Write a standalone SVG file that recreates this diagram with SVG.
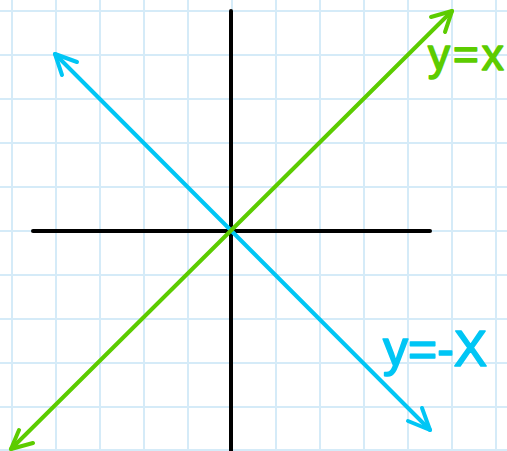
<svg xmlns="http://www.w3.org/2000/svg" width="507" height="451" viewBox="0 0 507 451">
  <style>
    .grid line { stroke: #d5ebf8; stroke-width: 2; }
    .axis { stroke: #000; stroke-width: 4; stroke-linecap: round; fill: none; }
    .blue { stroke: #00c6f5; stroke-width: 4; stroke-linecap: round; stroke-linejoin: round; fill: none; }
    .green { stroke: #5ccc00; stroke-width: 4; stroke-linecap: round; stroke-linejoin: round; fill: none; }
    .lbl { font-family: "Liberation Sans", Arial, sans-serif; stroke-width: 1.6; stroke-linejoin: round; }
  </style>
  <rect width="507" height="451" fill="#ffffff"/>
  <g id="grid" class="grid">
    <line x1="12" y1="0" x2="12" y2="451"/>
    <line x1="56" y1="0" x2="56" y2="451"/>
    <line x1="100" y1="0" x2="100" y2="451"/>
    <line x1="144" y1="0" x2="144" y2="451"/>
    <line x1="188" y1="0" x2="188" y2="451"/>
    <line x1="232" y1="0" x2="232" y2="451"/>
    <line x1="276" y1="0" x2="276" y2="451"/>
    <line x1="320" y1="0" x2="320" y2="451"/>
    <line x1="364" y1="0" x2="364" y2="451"/>
    <line x1="408" y1="0" x2="408" y2="451"/>
    <line x1="452" y1="0" x2="452" y2="451"/>
    <line x1="496" y1="0" x2="496" y2="451"/>
    <line x1="0" y1="11" x2="507" y2="11"/>
    <line x1="0" y1="55" x2="507" y2="55"/>
    <line x1="0" y1="99" x2="507" y2="99"/>
    <line x1="0" y1="143" x2="507" y2="143"/>
    <line x1="0" y1="187" x2="507" y2="187"/>
    <line x1="0" y1="231" x2="507" y2="231"/>
    <line x1="0" y1="275" x2="507" y2="275"/>
    <line x1="0" y1="319" x2="507" y2="319"/>
    <line x1="0" y1="363" x2="507" y2="363"/>
    <line x1="0" y1="407" x2="507" y2="407"/>
    <line x1="0" y1="450" x2="507" y2="450"/>
  </g>
  <g id="axes">
    <line class="axis" x1="231" y1="11" x2="231" y2="455"/>
    <line class="axis" x1="33" y1="231" x2="430" y2="231"/>
  </g>
  <g id="line-neg">
    <line class="blue" x1="55" y1="54" x2="430" y2="430"/>
    <polyline class="blue" points="77,62 55,54 62,75"/>
    <polyline class="blue" points="408,421 430,430 422,408"/>
    <text class="lbl" x="383" y="366" font-size="50" fill="#00c6f5" stroke="#00c6f5">y=-X</text>
  </g>
  <g id="line-pos">
    <line class="green" x1="452" y1="11" x2="11" y2="449"/>
    <polyline class="green" points="431,17 452,11 445,32"/>
    <polyline class="green" points="19,430 11,449 33,443"/>
    <text class="lbl" x="428" y="70" font-size="44" letter-spacing="3" fill="#5ccc00" stroke="#5ccc00">y=x</text>
  </g>
</svg>
